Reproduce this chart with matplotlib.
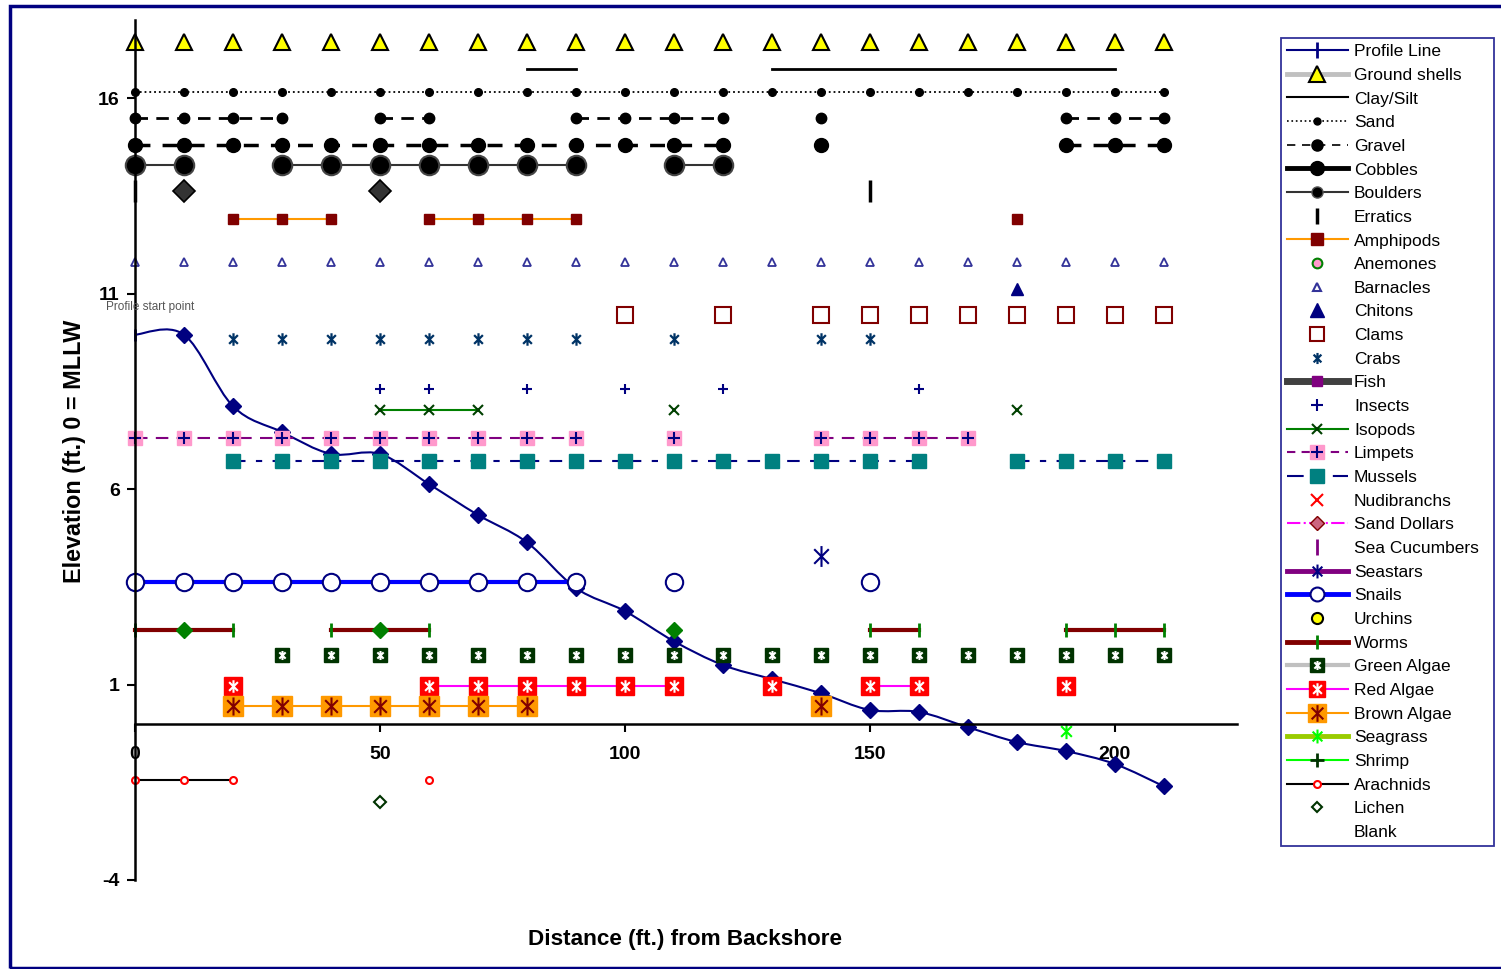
import numpy as np
import matplotlib
matplotlib.use("Agg")
import matplotlib.pyplot as plt
from matplotlib.lines import Line2D
from matplotlib.path import Path
from matplotlib.patches import PathPatch, Rectangle

plt.rcParams['font.family'] = ['Liberation Sans', 'DejaVu Sans']
plt.rcParams['axes.unicode_minus'] = False

# ---------------------------------
# data: distance stations (ft) and elevations (ft, 0 = MLLW)
# ---------------------------------
dist = [0, 10, 20, 30, 40, 50, 60, 70, 80, 90, 100, 110, 120, 130, 140, 150,
        160, 170, 180, 190, 200, 210]
profile = [9.95, 9.95, 8.12, 7.46, 6.9, 6.9, 6.13, 5.34, 4.64, 3.47, 2.88, 2.11,
           1.5, 1.14, 0.78, 0.35, 0.3, -0.09, -0.47, -0.7, -1.03, -1.6]

# each category: stations where it was found + plotting elevation
shells_x = dist
shells_y = 17.45
clay_x = [80, 90, 130, 140, 150, 160, 170, 180, 190, 200]
clay_y = 16.75
sand_x = dist
sand_y = 16.15
gravel_x = [0, 10, 20, 30, 50, 60, 90, 100, 110, 120, 140, 190, 200, 210]
gravel_y = 15.5
cobbles_x = [0, 10, 20, 30, 40, 50, 60, 70, 80, 90, 100, 110, 120, 140, 190, 200, 210]
cobbles_y = 14.8
boulders_x = [0, 10, 30, 40, 50, 60, 70, 80, 90, 110, 120]
boulders_y = 14.3
erratics_x = [0, 150]
erratics_d_x = [10, 50]
erratics_y = 13.63
amphipods_x = [20, 30, 40, 60, 70, 80, 90, 180]
amphipods_y = 12.9
barnacles_x = dist
barnacles_y = 11.8
chitons_x = [180]
chitons_y = 11.12
clams_x = [100, 120, 140, 150, 160, 170, 180, 190, 200, 210]
clams_y = 10.45
crabs_x = [20, 30, 40, 50, 60, 70, 80, 90, 110, 140, 150]
crabs_y = 9.85
insects_x = [50, 60, 80, 100, 120, 160]
insects_y = 8.55
isopods_x = [50, 60, 70, 110, 180]
isopods_y = 8.02
limpets_x = [0, 10, 20, 30, 40, 50, 60, 70, 80, 90, 110, 140, 150, 160, 170]
limpets_y = 7.3
mussels_x = [20, 30, 40, 50, 60, 70, 80, 90, 100, 110, 120, 130, 140, 150, 160,
             180, 190, 200, 210]
mussels_y = 6.72
seastars_x = [140]
seastars_y = 4.3
snails_x = [0, 10, 20, 30, 40, 50, 60, 70, 80, 90, 110, 150]
snails_y = 3.62
worms_x = [0, 10, 20, 40, 50, 60, 150, 160, 190, 200, 210]
worms_d_x = [10, 50, 110]
worms_y = 2.4
green_x = [30, 40, 50, 60, 70, 80, 90, 100, 110, 120, 130, 140, 150, 160, 170,
           180, 190, 200, 210]
green_y = 1.75
red_x = [20, 60, 70, 80, 90, 100, 110, 130, 150, 160, 190]
red_y = 0.96
brown_x = [20, 30, 40, 50, 60, 70, 80, 140]
brown_y = 0.45
seagrass_x = [190]
seagrass_y = -0.18
arachnids_x = [0, 10, 20, 60]
arachnids_y = -1.45
lichen_x = [50]
lichen_y = -2.0

navy = '#000080'
# excel style "star" marker: vertical bar plus an x
ast = Path([(0, -1), (0, 1), (-0.7, -0.7), (0.7, 0.7), (-0.7, 0.7), (0.7, -0.7)],
           [Path.MOVETO, Path.LINETO, Path.MOVETO, Path.LINETO, Path.MOVETO, Path.LINETO])


def row(ax, xs, elev, **kw):
    # break the line where a station is missing
    px, py = [], []
    for i, x in enumerate(xs):
        if i > 0 and x - xs[i - 1] > 10:
            px.append(np.nan)
            py.append(np.nan)
        px.append(x)
        py.append(elev)
    ax.plot(px, py, clip_on=False, **kw)


def smooth_path(xs, ys):
    # excel-like smoothed line through the profile points (bezier)
    pts = np.column_stack([xs, ys]).astype(float)
    n = len(pts)
    verts = [pts[0]]
    codes = [Path.MOVETO]
    for i in range(n - 1):
        p0 = pts[i - 1] if i > 0 else pts[i]
        p3 = pts[i + 2] if i + 2 < n else pts[i + 1]
        c1 = pts[i] + (pts[i + 1] - p0) / 6.0
        c2 = pts[i + 1] - (p3 - pts[i]) / 6.0
        verts += [c1, c2, pts[i + 1]]
        codes += [Path.CURVE4] * 3
    return Path(verts, codes)


fig = plt.figure(figsize=(15.01, 9.69), dpi=100)
ax = fig.add_axes([135 / 1501, 1 - 880 / 969, 1102 / 1501, 860 / 969])

# profile line
ax.add_patch(PathPatch(smooth_path(dist, profile), facecolor='none', edgecolor=navy,
                       lw=1.5, zorder=1.5, clip_on=False))
ax.plot(dist[1:], profile[1:], ls='none', marker='D', ms=8.5, color=navy, zorder=1.6, clip_on=False)
ax.plot(dist[:1], profile[:1], ls='none', marker='|', ms=9, mew=2, color=navy, zorder=1.6, clip_on=False)
ax.text(3, 10.65, 'Profile start point', fontsize=8.5, color='#555555',
        ha='center', va='center')

# substrate
row(ax, shells_x, shells_y, ls='none', marker='^', ms=12, mfc='yellow', mec='black', mew=1.5)
row(ax, clay_x, clay_y, color='black', lw=2)
row(ax, sand_x, sand_y, color='black', lw=1.3, ls=':', marker='o', ms=5.5)
row(ax, gravel_x, gravel_y, color='black', lw=2, ls=(0, (4.5, 3)), marker='o', ms=7.5)
row(ax, cobbles_x, cobbles_y, color='black', lw=2.5, ls=(0, (4.3, 3.5)), marker='o', ms=10)
row(ax, boulders_x, boulders_y, color='#333333', lw=1.5, marker='o', ms=14,
    mfc='black', mec='#444444', mew=1.5)
row(ax, erratics_x, erratics_y, ls='none', marker='|', ms=16, mew=2.5, color='black')
row(ax, erratics_d_x, erratics_y, ls='none', marker='D', ms=11, mfc='#333333', mec='black', mew=1.2)

# animals
row(ax, amphipods_x, amphipods_y, color='#FF9900', lw=1.5, marker='s', ms=7,
    mfc='#800000', mec='#800000')
row(ax, barnacles_x, barnacles_y, ls='none', marker='^', ms=6, mfc='white', mec='#333399', mew=1.3)
row(ax, chitons_x, chitons_y, ls='none', marker='^', ms=9, color=navy)
row(ax, clams_x, clams_y, ls='none', marker='s', ms=11, mfc='white', mec='#800000', mew=1.5)
row(ax, crabs_x, crabs_y, ls='none', marker=ast, ms=9, mfc='none', mec='#003366', mew=1.6)
row(ax, insects_x, insects_y, ls='none', marker='+', ms=7, mew=1.5, color=navy)
row(ax, isopods_x, isopods_y, color='#008000', lw=1.5, marker='x', ms=7, mec='#004000', mew=1.5)
row(ax, limpets_x, limpets_y, color='#800080', lw=1.5, ls=(0, (6, 4)), marker='s', ms=10,
    mfc='#FF99CC', mec='#FF99CC')
row(ax, limpets_x, limpets_y, ls='none', marker='+', ms=8, mew=1.5, color=navy)
row(ax, mussels_x, mussels_y, color=navy, lw=1.5, ls=(0, (6, 5, 3, 5)), marker='s', ms=10,
    mfc='#008080', mec='#008080')
row(ax, seastars_x, seastars_y, ls='none', marker=ast, ms=15, mfc='none', mec=navy, mew=1.5)
row(ax, snails_x, snails_y, color='#0000FF', lw=3, marker='o', ms=12.5, mfc='white',
    mec=navy, mew=1.5)
row(ax, worms_x, worms_y, color='#800000', lw=3, marker='|', ms=10, mec='#008000', mew=2)
row(ax, worms_d_x, worms_y, ls='none', marker='D', ms=8, color='#008000')

# algae and plants
row(ax, green_x, green_y, ls='none', marker='s', ms=10, mfc='#003300', mec='#003300')
row(ax, green_x, green_y, ls='none', marker=ast, ms=6.5, mfc='none', mec='white', mew=1.5)
row(ax, red_x, red_y, color='#FF00FF', lw=1.5, marker='s', ms=12.5, mfc='red', mec='red')
row(ax, red_x, red_y, ls='none', marker=ast, ms=9, mfc='none', mec='white', mew=1.5)
row(ax, brown_x, brown_y, color='#FF9900', lw=1.5, marker='s', ms=14, mfc='#FF9900', mec='#FF9900')
row(ax, brown_x, brown_y, ls='none', marker=ast, ms=13, mfc='none', mec='#800000', mew=1.5)
row(ax, seagrass_x, seagrass_y, ls='none', marker=ast, ms=11, mfc='none', mec='#00FF00', mew=1.5)
row(ax, arachnids_x, arachnids_y, color='black', lw=1.5, marker='o', ms=5, mfc='white',
    mec='red', mew=1.5)
row(ax, lichen_x, lichen_y, ls='none', marker='D', ms=6, mfc='white', mec='#003300', mew=1.5)

# axes
ax.set_xlim(0, 225)
ax.set_ylim(-4, 18)
ax.spines['top'].set_visible(False)
ax.spines['right'].set_visible(False)
ax.spines['bottom'].set_position(('data', 0))
ax.spines['left'].set_linewidth(1.8)
ax.spines['bottom'].set_linewidth(1.8)
ax.set_yticks([-4, 1, 6, 11, 16])
ax.set_xticks([0, 50, 100, 150, 200])
ax.tick_params(axis='y', direction='out', length=6, width=1.5, pad=5, labelsize=14)
ax.tick_params(axis='x', direction='out', length=6, width=1.5, pad=10, labelsize=14)
for lab in ax.get_xticklabels() + ax.get_yticklabels():
    lab.set_fontweight('bold')

fig.text(75 / 1501, 1 - 451 / 969, 'Elevation (ft.) 0 = MLLW', rotation=90, ha='center',
         va='center', fontsize=16.8, fontweight='bold')
fig.text(685 / 1501, 1 - 940 / 969, 'Distance (ft.) from Backshore', ha='center',
         va='center', fontsize=16.2, fontweight='bold')

# legend (proxy handles follow the excel legend samples)
def H(**kw):
    return Line2D([], [], **kw)

handles = [
    H(color=navy, lw=1.5, marker='|', ms=12, mew=2),
    H(color='#C0C0C0', lw=3.5, marker='^', ms=11, mfc='yellow', mec='black', mew=1.5),
    H(color='black', lw=1.5),
    H(color='black', lw=1.2, ls=':', marker='o', ms=5),
    H(color='black', lw=1.2, ls=(0, (5, 4)), marker='o', ms=8),
    H(color='black', lw=3.5, marker='o', ms=10),
    H(color='#333333', lw=1.5, marker='o', ms=8, mfc='black', mec='#555555'),
    H(ls='none', marker='|', ms=12, mew=2.5, color='black'),
    H(color='#FF9900', lw=1.5, marker='s', ms=8, mfc='#800000', mec='#800000'),
    H(ls='none', marker='o', ms=7, mfc='#FF99CC', mec='#008000', mew=1.5),
    H(ls='none', marker='^', ms=6, mfc='white', mec='#333399', mew=1.5),
    H(ls='none', marker='^', ms=10, color=navy),
    H(ls='none', marker='s', ms=10, mfc='white', mec='#800000', mew=1.5),
    H(ls='none', marker=ast, ms=8, mfc='none', mec='#003366', mew=1.6),
    H(color='#404040', lw=5, marker='s', ms=7, mfc='#800080', mec='#800080'),
    H(ls='none', marker='+', ms=8, mew=1.5, color=navy),
    H(color='#008000', lw=1.5, marker='x', ms=7, mec='#004000', mew=1.5),
    (H(color='#800080', lw=1.5, ls=(0, (4, 3)), marker='s', ms=10, mfc='#FF99CC', mec='#FF99CC'),
     H(ls='none', marker='+', ms=8, mew=1.5, color=navy)),
    H(color=navy, lw=1.5, ls=(0, (8, 6, 2, 6)), marker='s', ms=10, mfc='#008080', mec='#008080'),
    H(ls='none', marker='x', ms=9, mew=1.5, color='red'),
    H(color='#FF00FF', lw=1.5, ls='-.', marker='D', ms=7, mfc='#CC6680', mec='#800000'),
    H(ls='none', marker='|', ms=12, mew=2, color='#800080'),
    H(color='#800080', lw=3.5, marker=ast, ms=10, mfc='none', mec=navy, mew=1.5),
    H(color='#0000FF', lw=3.5, marker='o', ms=10, mfc='white', mec=navy, mew=1.5),
    H(ls='none', marker='o', ms=8, mfc='yellow', mec='black', mew=1.5),
    H(color='#800000', lw=3.5, marker='|', ms=10, mec='#008000', mew=2),
    (H(color='#C0C0C0', lw=3, marker='s', ms=10, mfc='#003300', mec='#003300'),
     H(ls='none', marker=ast, ms=6.5, mfc='none', mec='white', mew=1.5)),
    (H(color='#FF00FF', lw=1.5, marker='s', ms=12, mfc='red', mec='red'),
     H(ls='none', marker=ast, ms=9, mfc='none', mec='white', mew=1.5)),
    (H(color='#FF9900', lw=1.5, marker='s', ms=13, mfc='#FF9900', mec='#FF9900'),
     H(ls='none', marker=ast, ms=12, mfc='none', mec='#800000', mew=1.5)),
    H(color='#99CC00', lw=3.5, marker=ast, ms=10, mfc='none', mec='#00FF00', mew=1.5),
    H(color='#00FF00', lw=1.5, marker='+', ms=10, mec='#003300', mew=2),
    H(color='black', lw=1.5, marker='o', ms=5, mfc='white', mec='red', mew=1.5),
    H(ls='none', marker='D', ms=5, mfc='white', mec='#003300', mew=1.5),
    H(ls='none'),
]
labels = ['Profile Line', 'Ground shells', 'Clay/Silt', 'Sand', 'Gravel', 'Cobbles',
          'Boulders', 'Erratics', 'Amphipods', 'Anemones', 'Barnacles', 'Chitons', 'Clams',
          'Crabs', 'Fish', 'Insects', 'Isopods', 'Limpets', 'Mussels', 'Nudibranchs',
          'Sand Dollars', 'Sea Cucumbers', 'Seastars', 'Snails', 'Urchins', 'Worms',
          'Green Algae', 'Red Algae', 'Brown Algae', 'Seagrass', 'Shrimp', 'Arachnids',
          'Lichen', 'Blank']

leg = fig.legend(handles, labels, loc='upper left',
                 bbox_to_anchor=(1281 / 1501, 0, 213 / 1501, 1 - 38 / 969), mode='expand',
                 fontsize=12.5, frameon=True, fancybox=False, edgecolor=navy,
                 handlelength=3.5, handletextpad=0.35, labelspacing=0.49, borderpad=0.35,
                 borderaxespad=0)
leg.get_frame().set_linewidth(1.3)

# outer chart border
fig.add_artist(Rectangle((9.5 / 1501, 1 / 969), 1495 / 1501, 962 / 969, transform=fig.transFigure,
                         fill=False, edgecolor=navy, lw=2.5))

fig.savefig('out.png', dpi=100)
